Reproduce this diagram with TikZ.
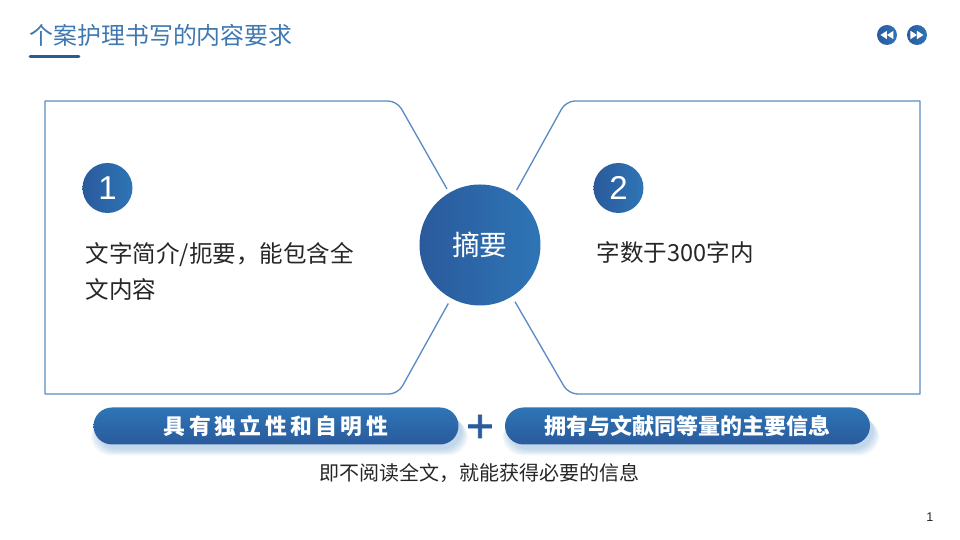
\documentclass[tikz,border=0pt]{standalone}
\usepackage{fontspec}
\setmainfont{Liberation Sans}
\newfontfamily\cjk{Noto Sans CJK SC}
\newfontfamily\cjkwide[LetterSpace=16]{Noto Sans CJK SC}
\newfontfamily\plusfont[FakeBold=1.6]{Liberation Sans}
\definecolor{deepblue}{HTML}{2A5A9C}
\definecolor{midblue}{HTML}{2E75B6}
\definecolor{framecol}{HTML}{5B8BC4}
\definecolor{bodycol}{HTML}{262626}
\definecolor{titlecol}{HTML}{3F78B0}
\tikzset{
  boxline/.style={draw=framecol,line width=.38pt,line join=round},
  ball/.style={circle,draw=none,left color=deepblue,right color=midblue,text=white,inner sep=0pt},
  pill/.style={rounded corners=.185cm,top color=midblue,bottom color=deepblue,text=white,inner sep=0pt,
    minimum width=3.65cm,minimum height=.37cm},
  bodytext/.style={text=bodycol,anchor=west,align=left,inner sep=0pt,font=\fontsize{6.7}{10.24}\selectfont\cjk},
}
\begin{document}
\begin{tikzpicture}
      \useasboundingbox (0,0) rectangle (9.6,5.4);
      % heading
      \node[anchor=west,inner sep=0pt,text=titlecol,font=\fontsize{6.8}{8}\selectfont\cjk] (title) at (.29,5.05) {个案护理书写的内容要求};
      \draw[deepblue,line width=.85pt,line cap=round] (.3,4.83) -- (.79,4.83);
      % nav buttons
      \foreach \bx/\bdir in {8.87/-1,9.17/1} {
        \node[ball,minimum size=.2cm] (nav\bdir) at (\bx,5.05) {};
        \foreach \tip in {0,.065} {
          \fill[white] (\bx+\bdir*\tip,5.05) -- ++(-\bdir*.065,.042) -- ++(0,-.084) -- cycle;
        }
      }
      % the two frames
      \coordinate (ltop) at (3.97,4.39);
      \coordinate (lbot) at (3.98,1.46);
      \coordinate (rtop) at (5.66,4.39);
      \coordinate (rbot) at (5.685,1.46);
      \draw[boxline] (4.47,3.51) [rounded corners=.09cm] -- (ltop) [sharp corners] -- (.45,4.39) -- (.45,1.46) [rounded corners=.09cm] -- (lbot) -- (4.483,2.365);
      \draw[boxline] (5.167,3.5) [rounded corners=.09cm] -- (rtop) [sharp corners] -- (9.2,4.39) -- (9.2,1.46) [rounded corners=.09cm] -- (rbot) -- (5.15,2.383);
      % centre
      \node[ball,minimum size=1.21cm,font=\fontsize{7.9}{9}\selectfont\cjk] (abstract) at (4.8,2.95) {摘要};
      \node[ball,minimum size=.5cm,font=\fontsize{9.4}{11}\selectfont] (one) at (1.075,3.52) {1};
      \node[ball,minimum size=.5cm,font=\fontsize{9.4}{11}\selectfont] (two) at (6.185,3.52) {2};
      \node[bodytext] (lefttext) at (.85,2.69) {文字简介/扼要，能包含全\\文内容};
      \node[bodytext] (righttext) at (5.96,2.87) {字数于300字内};
      % soft shadow under the bars
      \foreach \cx in {2.795,6.91} {
        \foreach \grow in {0,.012,.024,.036,.048,.06} {
          \fill[midblue,opacity=.055,rounded corners=.2cm] (\cx-1.825-\grow,1.275-\grow) rectangle (\cx+1.825+\grow,.905-\grow);
        }
      }
      % bottom row
      \node[pill,font=\fontsize{6.2}{7}\selectfont\bfseries\cjkwide] (pilla) at (2.76,1.14) {具有独立性和自明性};
      \node[pill,font=\fontsize{6.25}{7}\selectfont\bfseries\cjk] (pillb) at (6.875,1.14) {拥有与文献同等量的主要信息};
      \node[inner sep=0pt,text=deepblue,font=\fontsize{13.4}{14}\selectfont\plusfont] (plus) at (4.8,1.115) {+};
      \node[inner sep=0pt,text=bodycol,font=\fontsize{5.7}{7}\selectfont\cjk] (summary) at (4.795,.67) {即不阅读全文，就能获得必要的信息};
      \node[inner sep=0pt,text=bodycol,font=\fontsize{3.6}{4}\selectfont] (page) at (9.3,.23) {1};
\end{tikzpicture}
\end{document}
